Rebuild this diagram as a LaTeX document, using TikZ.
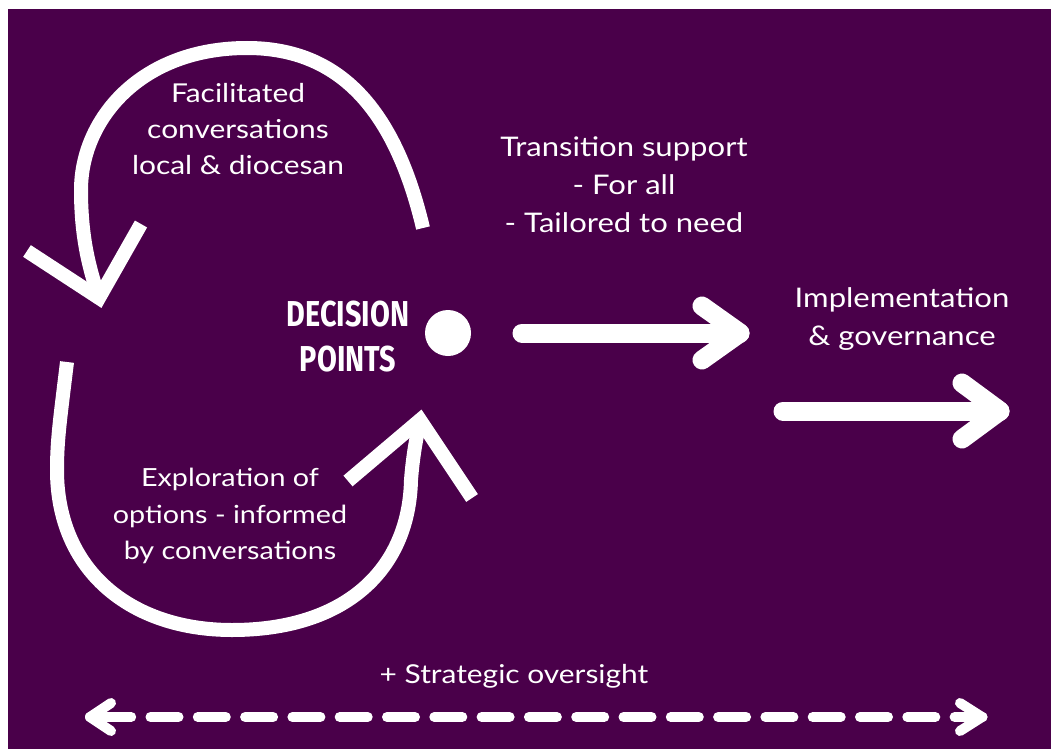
\documentclass[tikz,border=0pt]{standalone}
\usepackage{fontspec}
\setmainfont{Lato}[FakeStretch=1.15]
\newfontfamily\decfont{Fira Sans}
\definecolor{bgpurple}{RGB}{74,0,74}
\begin{document}
\begin{tikzpicture}[x=1pt,y=-1pt,
  loopline/.style={draw=white, line width=14pt, line cap=butt, line join=miter},
  bigarrow/.style={draw=white, line width=19pt, line cap=round, line join=round},
  dashline/.style={draw=white, line width=10pt, line cap=round, dash pattern=on 28pt off 19.3pt},
  dashhead/.style={draw=white, line width=10pt, line cap=round, line join=round},
  lbl/.style={text=white, align=center, inner sep=0pt},
  dec/.style={text=white, align=center, inner sep=0pt, font=\decfont\bfseries\fontsize{36}{45}\selectfont}]
\useasboundingbox (0,0) rectangle (1051,749);
\fill[white] (0,0) rectangle (1051,749);
\fill[bgpurple] (8,9) rectangle (1051,749);

% decision point
\node[circle, fill=white, minimum size=46pt, inner sep=0pt] (dp) at (448,333) {};
\node[dec] (dptext) at (348,337) {\scalebox{0.8}[1]{DECISION}\\\scalebox{0.8}[1]{POINTS}};

% top loop arrow
\coordinate (t0) at (423,228);
\coordinate (ttop) at (247,48);
\coordinate (tleft) at (81,190);
\coordinate (ttip) at (99,298);
\coordinate (tarmL) at (27,251);
\coordinate (tarmR) at (141,224);
\draw[loopline] (t0) .. controls (395,110) and (340,48) .. (ttop)
  .. controls (140,48) and (81,120) .. (tleft)
  .. controls (81,240) and (90,270) .. (ttip);
\draw[loopline] (tarmL) -- (ttip) -- (tarmR);

% bottom loop arrow
\coordinate (b0) at (67,362);
\coordinate (bleft) at (57,470);
\coordinate (bbot) at (232,630);
\coordinate (bright) at (411,480);
\coordinate (btip) at (420,420);
\coordinate (barmL) at (348,481);
\coordinate (barmR) at (472,498);
\draw[loopline] (b0) .. controls (60,420) and (57,440) .. (bleft)
  .. controls (57,570) and (130,630) .. (bbot)
  .. controls (345,630) and (409,570) .. (bright)
  .. controls (413,455) and (416,440) .. (btip);
\draw[loopline] (barmL) -- (btip) -- (barmR);

% right arrows
\coordinate (a1s) at (522,333);
\coordinate (a1t) at (740,333);
\coordinate (a1u) at (702,306);
\coordinate (a1d) at (702,360);
\draw[bigarrow] (a1s) -- (a1t);
\draw[bigarrow] (a1u) -- (a1t) -- (a1d);
\coordinate (a2s) at (783,411);
\coordinate (a2t) at (1000,411);
\coordinate (a2u) at (962,383);
\coordinate (a2d) at (962,439);
\draw[bigarrow] (a2s) -- (a2t);
\draw[bigarrow] (a2u) -- (a2t) -- (a2d);

% dashed double arrow
\coordinate (dL) at (103.2,717);
\coordinate (dR) at (982.6,717);
\coordinate (dLtip) at (90,717);
\coordinate (dRtip) at (982,717);
\draw[dashline] (dL) -- (dR);
\draw[dashhead] (111,703) -- (dLtip) -- (111,731);
\draw[dashhead] (dLtip) -- (dL);
\draw[dashhead] (960,703) -- (dRtip) -- (960,731);

% labels
\node[lbl, font=\fontsize{26}{36}\selectfont] (fac) at (238,129)
  {Facilitated\\conversations\\local \& diocesan};
\node[lbl, font=\fontsize{27}{38}\selectfont] (trans) at (624,185)
  {Transition support\\- For all\\- Tailored to need};
\node[lbl, font=\fontsize{27}{38}\selectfont] (impl) at (902,319)
  {Implementation\\\& governance};
\node[lbl, font=\fontsize{25}{36.5}\selectfont] (expl) at (230,516)
  {Exploration of\\options - informed\\by conversations};
\node[lbl, font=\fontsize{26}{36}\selectfont] (strat) at (514,676)
  {+ Strategic oversight};
\end{tikzpicture}
\end{document}
